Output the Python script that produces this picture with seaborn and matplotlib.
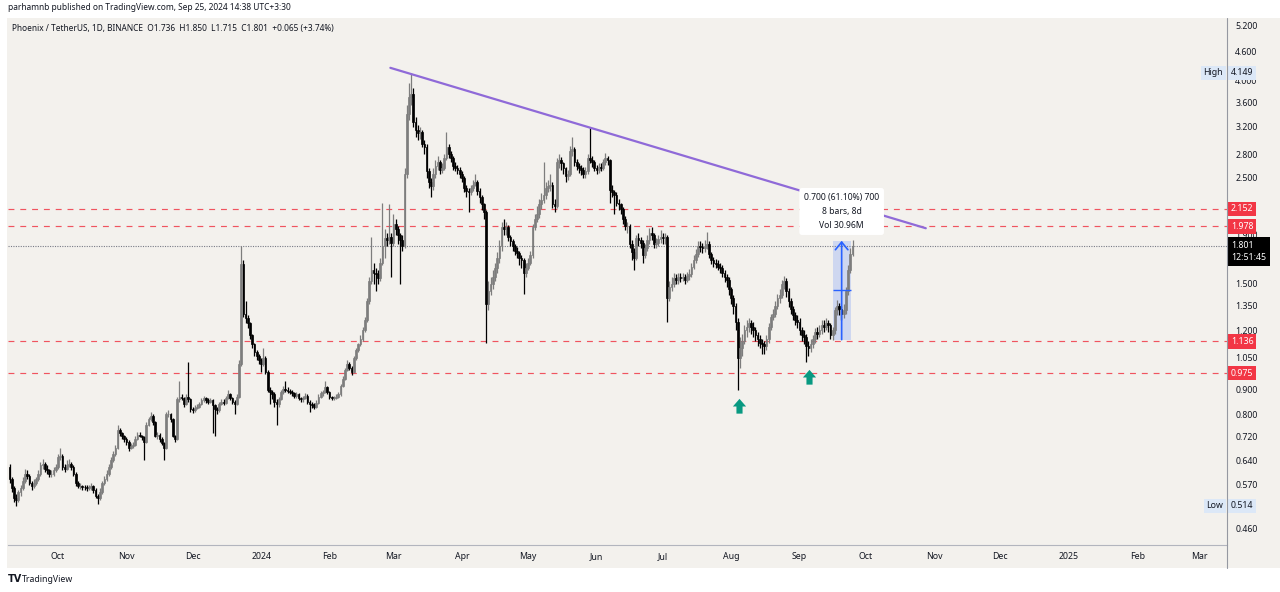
import matplotlib
matplotlib.use("Agg")
import numpy as np
import pandas as pd
import matplotlib.pyplot as plt
import matplotlib.dates as mdates
from matplotlib.transforms import blended_transform_factory
from matplotlib.patches import Rectangle
import seaborn as sns

# ---------------- data ----------------
start_date = "2023-09-09"
first_open = 0.62
closes = [
    0.585, 0.56, 0.535, 0.53, 0.55, 0.56, 0.58, 0.60, 0.595, 0.575,
    0.565, 0.575, 0.585, 0.60, 0.625, 0.63, 0.615, 0.61, 0.60, 0.60,
    0.61, 0.62, 0.65, 0.655, 0.62, 0.615, 0.625, 0.63, 0.62, 0.60,
    0.575, 0.565, 0.565, 0.563, 0.562, 0.56, 0.562, 0.565, 0.555, 0.54,
    0.535, 0.55, 0.575, 0.585, 0.60, 0.62, 0.64, 0.66, 0.68, 0.74,
    0.73, 0.72, 0.71, 0.70, 0.68, 0.685, 0.69, 0.71, 0.725, 0.72,
    0.715, 0.70, 0.76, 0.78, 0.795, 0.77, 0.72, 0.725, 0.71, 0.695,
    0.68, 0.80, 0.80, 0.78, 0.72, 0.71, 0.86, 0.87, 0.865, 0.84,
    0.87, 0.86, 0.82, 0.815, 0.825, 0.83, 0.84, 0.855, 0.865, 0.855,
    0.85, 0.855, 0.835, 0.82, 0.815, 0.84, 0.85, 0.845, 0.865, 0.88,
    0.865, 0.85, 0.84, 0.87, 1.02, 1.65, 1.30, 1.27, 1.24, 1.17,
    1.12, 1.08, 1.06, 1.04, 1.02, 1.05, 0.98, 0.90, 0.89, 0.88,
    0.85, 0.84, 0.86, 0.89, 0.905, 0.90, 0.895, 0.89, 0.885, 0.875,
    0.88, 0.865, 0.86, 0.865, 0.875, 0.85, 0.84, 0.835, 0.83, 0.845,
    0.87, 0.885, 0.89, 0.91, 0.89, 0.87, 0.865, 0.865, 0.87, 0.88,
    0.915, 0.95, 0.99, 1.02, 1.00, 0.98, 1.05, 1.09, 1.12, 1.15,
    1.20, 1.26, 1.38, 1.52, 1.60, 1.58, 1.57, 1.54, 1.66, 1.80,
    1.87, 1.85, 1.88, 1.83, 2.00, 1.95, 1.90, 1.85, 1.80, 2.55,
    3.40, 3.70, 3.75, 3.28, 3.15, 3.10, 3.12, 2.95, 2.90, 2.58,
    2.45, 2.40, 2.55, 2.65, 2.70, 2.60, 2.62, 2.75, 2.90, 2.80,
    2.75, 2.65, 2.62, 2.60, 2.55, 2.50, 2.38, 2.35, 2.33, 2.38,
    2.42, 2.45, 2.35, 2.28, 2.20, 2.12, 1.36, 1.45, 1.50, 1.55,
    1.62, 1.70, 1.80, 1.97, 1.95, 1.97, 1.88, 1.84, 1.80, 1.76,
    1.74, 1.70, 1.68, 1.58, 1.62, 1.66, 1.72, 1.97, 2.05, 2.10,
    2.20, 2.25, 2.30, 2.38, 2.40, 2.42, 2.20, 2.18, 2.70, 2.72,
    2.68, 2.62, 2.52, 2.55, 2.85, 2.88, 2.70, 2.65, 2.62, 2.60,
    2.55, 2.58, 2.75, 2.72, 2.70, 2.62, 2.60, 2.64, 2.62, 2.70,
    2.75, 2.72, 2.36, 2.33, 2.30, 2.22, 2.20, 2.15, 2.05, 1.98,
    1.98, 1.82, 1.75, 1.70, 1.87, 1.85, 1.83, 1.72, 1.78, 1.85,
    1.92, 1.90, 1.82, 1.83, 1.86, 1.88, 1.87, 1.88, 1.40, 1.48,
    1.50, 1.54, 1.53, 1.55, 1.54, 1.55, 1.53, 1.56, 1.57, 1.63,
    1.68, 1.73, 1.80, 1.79, 1.78, 1.80, 1.82, 1.73, 1.68, 1.66,
    1.65, 1.63, 1.62, 1.58, 1.55, 1.53, 1.46, 1.40, 1.35, 1.25,
    1.05, 1.10, 1.14, 1.20, 1.22, 1.24, 1.22, 1.20, 1.17, 1.15,
    1.13, 1.12, 1.11, 1.15, 1.22, 1.28, 1.30, 1.35, 1.40, 1.42,
    1.50, 1.52, 1.45, 1.38, 1.33, 1.29, 1.26, 1.25, 1.20, 1.17,
    1.16, 1.11, 1.10, 1.12, 1.15, 1.19, 1.18, 1.20, 1.23, 1.22,
    1.24, 1.23, 1.17, 1.20, 1.32, 1.35, 1.33, 1.30, 1.32, 1.45,
    1.60, 1.736, 1.801,
]
highs = [
    .63, .59, .565, .545, .555, .57, .59, .615, .61, .60,
    .58, .585, .59, .61, .635, .645, .635, .625, .615, .61,
    .62, .63, .66, .68, .66, .63, .64, .645, .635, .625,
    .605, .58, .575, .57, .57, .568, .57, .575, .57, .56,
    .545, .56, .58, .595, .61, .63, .65, .67, .69, .76,
    .75, .735, .725, .715, .705, .695, .70, .72, .735, .735,
    .725, .72, .77, .79, .81, .80, .775, .735, .73, .715,
    .70, .81, .815, .805, .785, .725, .87, .94, .88, .87,
    .88, 1.03, .865, .83, .835, .84, .85, .865, .875, .87,
    .865, .865, .86, .84, .83, .85, .86, .86, .875, .90,
    .885, .87, .855, .88, 1.04, 1.80, 1.68, 1.38, 1.29, 1.25,
    1.18, 1.13, 1.09, 1.07, 1.05, 1.10, 1.06, .99, .91, .90,
    .89, .86, .87, .90, .915, .94, .91, .905, .90, .89,
    .89, .885, .87, .875, .885, .88, .855, .85, .845, .855,
    .88, .895, .90, .94, .915, .895, .875, .875, .88, .89,
    .925, .96, 1.00, 1.04, 1.03, 1.01, 1.06, 1.10, 1.13, 1.17,
    1.22, 1.28, 1.40, 1.55, 1.88, 1.66, 1.62, 1.60, 1.70, 2.22,
    1.95, 1.92, 2.20, 1.92, 2.10, 2.05, 1.98, 1.92, 1.90, 2.62,
    3.55, 3.95, 4.149, 3.85, 3.35, 3.22, 3.20, 3.15, 3.00, 2.95,
    2.62, 2.50, 2.62, 2.72, 2.78, 2.72, 2.68, 2.80, 3.12, 2.95,
    2.85, 2.78, 2.70, 2.66, 2.63, 2.58, 2.52, 2.42, 2.38, 2.42,
    2.48, 2.55, 2.48, 2.38, 2.30, 2.22, 2.14, 1.52, 1.55, 1.60,
    1.66, 1.75, 1.85, 2.02, 2.05, 2.02, 1.99, 1.90, 1.86, 1.82,
    1.79, 1.76, 1.72, 1.70, 1.66, 1.70, 1.76, 2.00, 2.10, 2.18,
    2.26, 2.32, 2.70, 2.45, 2.48, 2.55, 2.45, 2.26, 2.75, 2.80,
    2.76, 2.70, 2.64, 2.60, 2.92, 3.05, 2.90, 2.74, 2.68, 2.66,
    2.63, 2.64, 2.80, 3.20, 2.78, 2.72, 2.66, 2.68, 2.68, 2.74,
    2.82, 2.78, 2.74, 2.42, 2.36, 2.34, 2.26, 2.22, 2.17, 2.08,
    2.02, 2.00, 1.85, 1.78, 1.90, 1.92, 1.88, 1.85, 1.82, 1.90,
    1.96, 1.97, 1.92, 1.87, 1.90, 1.94, 1.92, 1.92, 1.90, 1.52,
    1.55, 1.58, 1.57, 1.58, 1.58, 1.58, 1.57, 1.59, 1.61, 1.66,
    1.72, 1.77, 1.84, 1.84, 1.83, 1.85, 1.93, 1.84, 1.75, 1.71,
    1.69, 1.68, 1.66, 1.64, 1.60, 1.57, 1.55, 1.48, 1.42, 1.37,
    1.27, 1.16, 1.18, 1.23, 1.26, 1.27, 1.26, 1.25, 1.22, 1.19,
    1.17, 1.15, 1.14, 1.17, 1.24, 1.30, 1.33, 1.38, 1.43, 1.46,
    1.53, 1.56, 1.54, 1.47, 1.40, 1.35, 1.31, 1.29, 1.27, 1.22,
    1.20, 1.18, 1.14, 1.15, 1.17, 1.21, 1.22, 1.23, 1.26, 1.26,
    1.27, 1.26, 1.24, 1.22, 1.34, 1.39, 1.37, 1.35, 1.36, 1.48,
    1.64, 1.78, 1.85,
]
lows = [
    .575, .55, .525, .514, .525, .54, .555, .575, .585, .57,
    .555, .56, .57, .58, .595, .615, .605, .60, .59, .59,
    .595, .605, .615, .64, .61, .605, .61, .62, .61, .595,
    .565, .56, .558, .556, .555, .553, .555, .556, .548, .535,
    .52, .53, .545, .57, .58, .595, .615, .635, .655, .675,
    .72, .71, .70, .69, .67, .675, .68, .685, .705, .715,
    .705, .64, .695, .755, .775, .76, .715, .71, .70, .69,
    .64, .675, .79, .77, .715, .70, .705, .85, .855, .83,
    .835, .85, .81, .805, .81, .82, .825, .835, .85, .845,
    .84, .845, .73, .72, .80, .81, .835, .835, .84, .86,
    .855, .84, .80, .835, .865, 1.01, 1.28, 1.24, 1.21, 1.15,
    1.10, 1.06, 1.04, 1.02, .98, 1.01, .97, .89, .84, .86,
    .83, .76, .83, .855, .88, .89, .885, .88, .875, .865,
    .865, .855, .85, .85, .86, .84, .81, .825, .82, .825,
    .84, .865, .875, .885, .88, .86, .855, .855, .86, .865,
    .875, .91, .945, .985, .99, .965, .975, 1.04, 1.08, 1.11,
    1.14, 1.19, 1.25, 1.36, 1.50, 1.50, 1.45, 1.50, 1.52, 1.64,
    1.70, 1.80, 1.82, 1.55, 1.80, 1.90, 1.82, 1.50, 1.76, 1.78,
    2.50, 3.30, 3.55, 3.20, 3.05, 3.00, 3.02, 2.90, 2.80, 2.50,
    2.38, 2.28, 2.36, 2.50, 2.60, 2.55, 2.56, 2.60, 2.72, 2.75,
    2.70, 2.60, 2.58, 2.55, 2.50, 2.45, 2.33, 2.28, 2.12, 2.30,
    2.35, 2.40, 2.30, 2.22, 2.14, 2.05, 1.13, 1.32, 1.42, 1.46,
    1.52, 1.58, 1.66, 1.76, 1.90, 1.90, 1.84, 1.80, 1.76, 1.72,
    1.70, 1.64, 1.62, 1.43, 1.55, 1.60, 1.64, 1.70, 1.94, 2.02,
    2.06, 2.15, 2.22, 2.26, 2.33, 2.35, 2.16, 2.12, 2.16, 2.62,
    2.60, 2.55, 2.45, 2.48, 2.52, 2.78, 2.65, 2.60, 2.56, 2.54,
    2.50, 2.50, 2.55, 2.68, 2.64, 2.58, 2.55, 2.56, 2.58, 2.60,
    2.66, 2.66, 2.22, 2.28, 2.10, 2.18, 2.14, 2.10, 2.00, 1.94,
    1.92, 1.78, 1.68, 1.60, 1.68, 1.80, 1.78, 1.66, 1.70, 1.76,
    1.82, 1.85, 1.78, 1.78, 1.80, 1.83, 1.82, 1.82, 1.25, 1.38,
    1.45, 1.48, 1.50, 1.50, 1.51, 1.52, 1.50, 1.51, 1.53, 1.55,
    1.61, 1.66, 1.71, 1.75, 1.74, 1.75, 1.77, 1.70, 1.65, 1.63,
    1.62, 1.60, 1.58, 1.55, 1.51, 1.48, 1.42, 1.36, 1.30, 1.20,
    .90, 1.00, 1.06, 1.12, 1.16, 1.19, 1.18, 1.16, 1.14, 1.11,
    1.10, 1.07, 1.07, 1.09, 1.13, 1.20, 1.26, 1.28, 1.33, 1.37,
    1.40, 1.46, 1.41, 1.34, 1.30, 1.26, 1.23, 1.21, 1.17, 1.14,
    1.12, 1.03, 1.06, 1.08, 1.10, 1.13, 1.15, 1.16, 1.18, 1.19,
    1.20, 1.19, 1.15, 1.146, 1.18, 1.29, 1.29, 1.26, 1.27, 1.30,
    1.42, 1.58, 1.715,
]

month_dates = ["2023-10-01", "2023-11-01", "2023-12-01", "2024-01-01", "2024-02-01",
               "2024-03-01", "2024-04-01", "2024-05-01", "2024-06-01", "2024-07-01",
               "2024-08-01", "2024-09-01", "2024-10-01", "2024-11-01", "2024-12-01",
               "2025-01-01", "2025-02-01", "2025-03-01"]
month_labels = ["Oct", "Nov", "Dec", "2024", "Feb", "Mar", "Apr", "May", "Jun", "Jul",
                "Aug", "Sep", "Oct", "Nov", "Dec", "2025", "Feb", "Mar"]
price_ticks = [5.2, 4.6, 4.0, 3.6, 3.2, 2.8, 2.5, 1.9, 1.5, 1.35, 1.2, 1.05,
               0.9, 0.8, 0.72, 0.64, 0.57, 0.46]
levels = [2.152, 1.978, 1.136, 0.975]
last_price = 1.801
all_high = 4.149
all_low = 0.514
trend_dates = ["2024-02-28 14:00", "2024-10-28 05:00"]
trend_prices = [4.25, 1.961]
measure_dates = ["2024-09-16 07:00", "2024-09-24 12:00"]
measure_arrow_date = "2024-09-20 02:00"
measure_lo, measure_hi, measure_mid = 1.146, 1.846, 1.455
signal_dates = ["2024-08-04 10:00", "2024-09-05 10:00"]
signal_prices = [0.832, 0.9565]

# ---------------- style ----------------
sns.set_style("white")
plt.rcParams["font.family"] = ["Noto Sans", "DejaVu Sans"]
BG = "#f3f1ed"
TXT = "#131722"
UP = "#7d7d7d"
DOWN = "#000000"

W, H = 1280, 592
fig = plt.figure(figsize=(W / 100, H / 100), dpi=100, facecolor="white")

def fx(px):
    return px / W

def fy(py):
    return 1 - py / H

# chart panel background (price area + scales)
fig.patches.append(Rectangle((fx(7), fy(568)), 1 - fx(7), fy(18) - fy(568),
                             transform=fig.transFigure, facecolor=BG, edgecolor="none", zorder=-5))

ax = fig.add_axes([fx(8), fy(545), fx(1227) - fx(8), fy(18) - fy(545)])
ax.set_zorder(1)
ax.set_facecolor(BG)
ax.set_yscale("log")

base = mdates.date2num(pd.Timestamp(start_date))
n = len(closes)
x = base + np.arange(n)
c = np.array(closes)
o = np.r_[first_open, c[:-1]]
hi = np.array(highs)
lo = np.array(lows)
up = c >= o
cols = np.where(up, UP, DOWN)

# candles
ax.vlines(x, lo, hi, colors=cols, lw=0.9, zorder=3)
ax.bar(x, np.abs(c - o), bottom=np.minimum(o, c), width=0.78, color=cols,
       edgecolor=cols, linewidth=0.5, zorder=4)

# horizontal levels
for lv in levels:
    ax.axhline(lv, color="#f0545f", lw=0.85, ls=(0, (5, 5)), zorder=2)
ax.axhline(last_price, color="#787b86", lw=0.8, ls=(0, (1, 1.2)), zorder=2)

# trend line
tx = [mdates.date2num(pd.Timestamp(d)) for d in trend_dates]
sns.lineplot(x=tx, y=trend_prices, ax=ax, color="#8f6ad8", lw=1.6, zorder=5)

# measure tool
mx0, mx1 = [mdates.date2num(pd.Timestamp(d)) for d in measure_dates]
ax.add_patch(Rectangle((mx0, measure_lo), mx1 - mx0, measure_hi - measure_lo,
                       facecolor="#2962ff", alpha=0.18, edgecolor="none", zorder=1))
ax.hlines(measure_mid, mx0, mx1, color="#2962ff", lw=1.0, zorder=6)
ma = mdates.date2num(pd.Timestamp(measure_arrow_date))
ax.annotate("", xy=(ma, measure_hi), xytext=(ma, measure_lo),
            arrowprops=dict(arrowstyle="->,head_length=0.55,head_width=0.45",
                            color="#2962ff", lw=1.2, shrinkA=0, shrinkB=0), zorder=6)
ax.text(ma, 2.126, "0.700 (61.10%) 700\n8 bars, 8d\nVol 30.96M", ha="center", va="center",
        fontsize=6.2, color=TXT, linespacing=1.75, zorder=8,
        bbox=dict(boxstyle="round,pad=0.55,rounding_size=0.3", fc="white", ec="none"))

# green signal arrows
arrow_marker = [(-3, -7), (3, -7), (3, 0), (6.5, 0), (0, 7.5), (-6.5, 0), (-3, 0), (-3, -7)]
sx = [mdates.date2num(pd.Timestamp(d)) for d in signal_dates]
ax.plot(sx, signal_prices, ls="none", marker=arrow_marker, ms=11, color="#089981",
        markeredgewidth=0, zorder=7)

# limits
ax.set_xlim(base - 0.68, base + 551.7)
ax.set_ylim(0.4258, 5.404)

# x ticks
ax.set_xticks([mdates.date2num(pd.Timestamp(d)) for d in month_dates])
ax.set_xticklabels(month_labels)
ax.tick_params(axis="x", length=0, pad=5, labelsize=6.3, labelcolor=TXT)
for lab in ax.get_xticklabels():
    if lab.get_text() in ("2024", "2025"):
        lab.set_fontweight("bold")

# y ticks on the right
ax.yaxis.tick_right()
ax.yaxis.set_minor_locator(matplotlib.ticker.NullLocator())
ax.set_yticks(price_ticks)
ax.set_yticklabels([f"{v:.3f}" for v in price_ticks])
ax.tick_params(axis="y", length=0, pad=6, labelsize=6.3, labelcolor=TXT)

for side in ("left", "top", "right"):
    ax.spines[side].set_visible(False)
ax.spines["bottom"].set_color("#b2b5be")
ax.spines["bottom"].set_linewidth(0.8)
ax.grid(False)

# right scale separator line extending into time axis
fig.lines.append(plt.Line2D([fx(1227), fx(1227)], [fy(18), fy(568)], transform=fig.transFigure,
                            color="#9598a1", lw=0.8, zorder=5))

# price scale labels
bt = blended_transform_factory(fig.transFigure, ax.transData)
for lv in levels:
    ax.text(fx(1231), lv, f"{lv:.3f}", transform=bt, ha="left", va="center", fontsize=6.3,
            color="white", fontweight="bold", zorder=20, clip_on=False,
            bbox=dict(boxstyle="square,pad=0.3", fc="#f23645", ec="none"))
ax.text(fx(1231), 1.842, f"{last_price:.3f}\n12:51:45", transform=bt, ha="left", va="top",
        fontsize=6.3, color="white", fontweight="bold", zorder=20, clip_on=False,
        linespacing=1.35, bbox=dict(boxstyle="square,pad=0.45", fc="#000000", ec="none"))
for val, name in ((all_high, "High"), (all_low, "Low")):
    ax.text(fx(1231), val, f"{val:.3f}", transform=bt, ha="left", va="center", fontsize=6.3,
            color=TXT, zorder=20, clip_on=False,
            bbox=dict(boxstyle="square,pad=0.3", fc="#dce8f7", ec="none"))
    ax.text(fx(1223), val, name, transform=bt, ha="right", va="center", fontsize=6.3,
            color=TXT, zorder=20, clip_on=False,
            bbox=dict(boxstyle="square,pad=0.3", fc="#dce8f7", ec="none"))

# header texts
fig.text(fx(8), fy(8), "parhamnb published on TradingView.com, Sep 25, 2024 14:38 UTC+3:30",
         ha="left", va="center", fontsize=6.0, color=TXT)
fig.text(fx(12), fy(28),
         "Phoenix / TetherUS, 1D, BINANCE  O1.736  H1.850  L1.715  C1.801  +0.065 (+3.74%)",
         ha="left", va="center", fontsize=6.0, color=TXT, zorder=10)

# footer logo
fig.text(fx(8), fy(579), "TV", ha="left", va="center", fontsize=7, color=TXT,
         fontweight="heavy", family=["DejaVu Sans"])
fig.text(fx(22), fy(579), "TradingView", ha="left", va="center", fontsize=6.3, color=TXT)

fig.savefig("out.png", dpi=100, facecolor="white")
